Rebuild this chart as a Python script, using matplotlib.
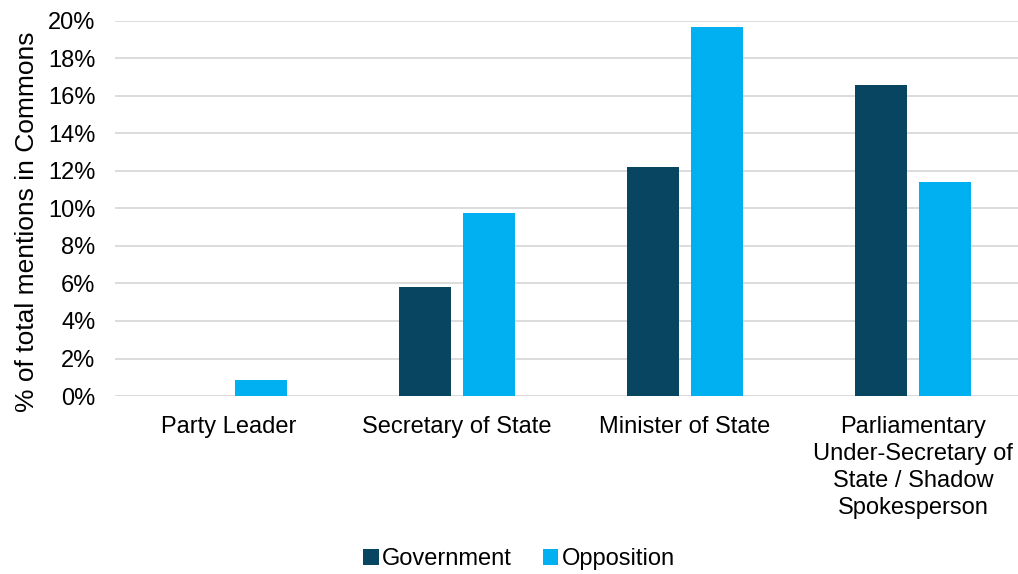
import numpy as np
import matplotlib.pyplot as plt
from matplotlib.ticker import PercentFormatter

plt.rcParams["font.family"] = ["Liberation Sans", "DejaVu Sans"]

categories = [
    "Party Leader",
    "Secretary of State",
    "Minister of State",
    "Parliamentary\nUnder-Secretary of\nState / Shadow\nSpokesperson",
]
government = [0.0, 5.82, 12.22, 16.57]
opposition = [0.85, 9.73, 19.68, 11.38]

GOV_COLOR = "#084561"
OPP_COLOR = "#00B0F0"
GRID_COLOR = "#D9D9D9"

fig = plt.figure(figsize=(10.18, 5.74), dpi=100)
ax = fig.add_axes([0.113, 0.310, 0.887, 0.654])

x = np.arange(len(categories))
width = 0.228
offset = 0.142

ax.bar(x - offset, government, width, color=GOV_COLOR, label="Government", zorder=3)
ax.bar(x + offset, opposition, width, color=OPP_COLOR, label="Opposition", zorder=3)

ax.set_ylim(0, 20)
ax.set_xlim(-0.5, 3.46)
ax.set_yticks(np.arange(0, 21, 2))
ax.yaxis.set_major_formatter(PercentFormatter(decimals=0))
ax.grid(axis="y", color=GRID_COLOR, linewidth=1.3, zorder=0)

for side in ["top", "right", "left", "bottom"]:
    ax.spines[side].set_visible(False)

ax.set_xticks(x)
ax.set_xticklabels(categories, fontsize=17, linespacing=1.3)
ax.tick_params(axis="x", length=0, pad=14.5)
ax.tick_params(axis="y", length=0, pad=14, labelsize=17)

ax.set_ylabel("% of total mentions in Commons", fontsize=19)
ax.yaxis.set_label_coords(-0.084, 0.464)

fig.legend(
    loc="center",
    bbox_to_anchor=(0.51, 0.026),
    ncol=2,
    frameon=False,
    fontsize=17,
    handlelength=0.65,
    handleheight=0.65,
    handletextpad=0.15,
    columnspacing=1.3,
    borderaxespad=0,
    borderpad=0,
)

fig.savefig("out.png", dpi=100)
